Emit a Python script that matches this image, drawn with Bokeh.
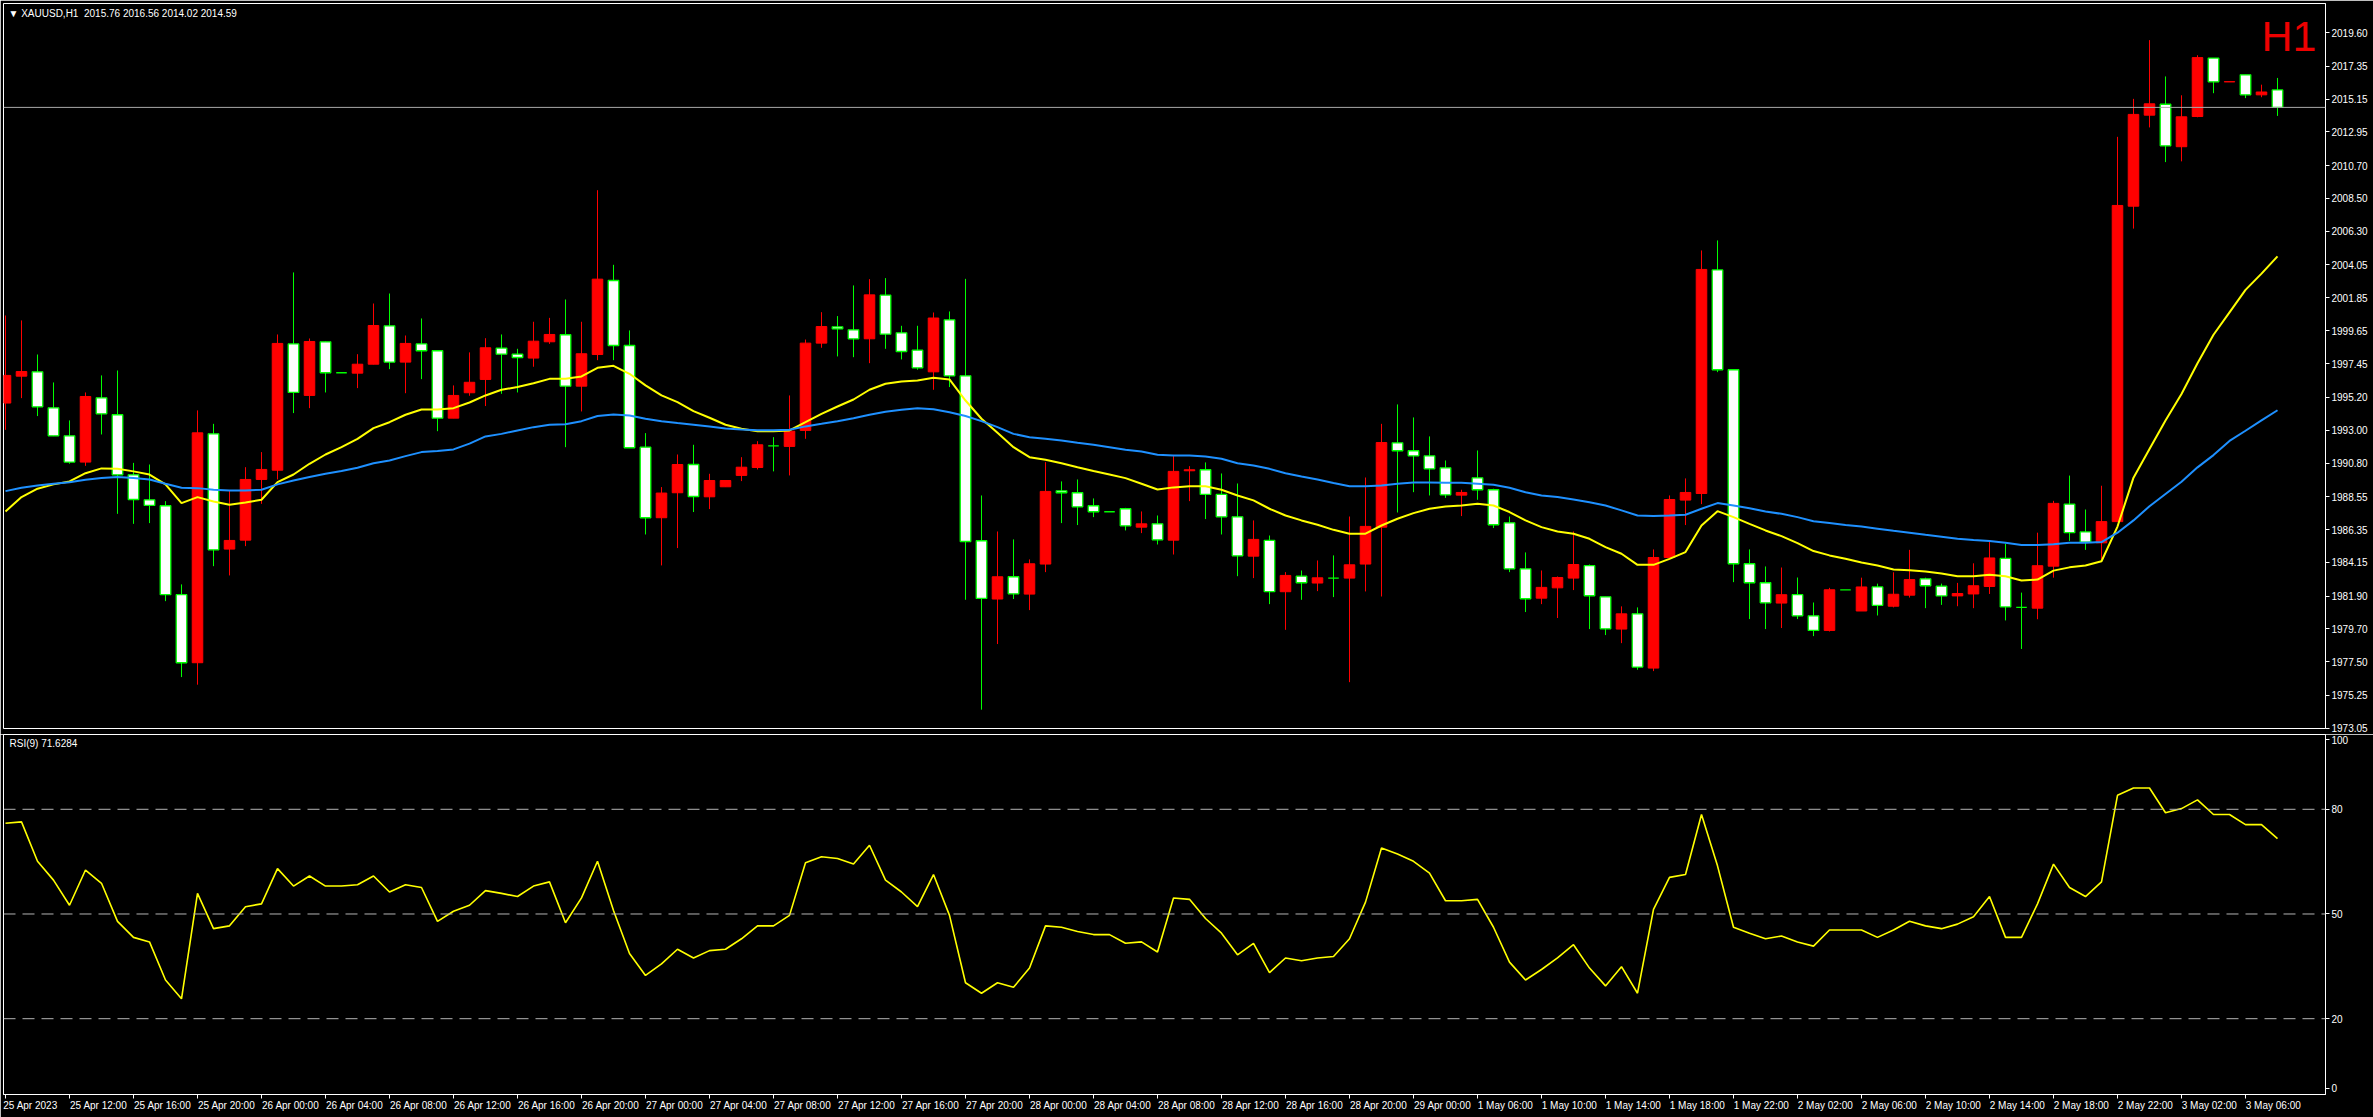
import numpy as np
from bokeh.plotting import figure
from bokeh.layouts import column
from bokeh.models import (ColumnDataSource, Range1d, FixedTicker, PrintfTickFormatter,
                          Span, Label)
from bokeh.embed import file_html
from bokeh.resources import INLINE

# ---------------- data (XAUUSD H1, bar index 0 = 25 Apr 2023 08:00) ----------------
opens = [1994.81, 1996.61, 1996.90, 1994.49, 1992.62, 1990.86, 1995.16, 1994.03, 1990.01, 1988.34,
         1987.94, 1981.99, 1977.44, 1992.75, 1985.04, 1985.64, 1989.70, 1990.32, 1998.77, 1995.32,
         1998.91, 1996.84, 1996.81, 1997.41, 1999.98, 1997.55, 1998.77, 1998.31, 1993.80, 1995.50,
         1996.39, 1998.49, 1998.08, 1997.82, 1998.91, 1999.38, 1995.94, 1998.06, 2003.01, 1998.66,
         1991.86, 1987.14, 1988.81, 1990.70, 1988.54, 1989.21, 1989.97, 1990.50, 1991.95, 1991.91,
         1992.98, 1998.82, 1999.91, 1999.71, 1999.11, 2002.03, 1999.51, 1998.35, 1996.90, 2000.38,
         1996.63, 1985.60, 1981.70, 1983.19, 1982.03, 1984.04, 1988.94, 1988.81, 1987.94, 1987.54,
         1987.74, 1986.51, 1986.73, 1985.64, 1990.28, 1990.35, 1988.70, 1987.20, 1984.57, 1985.62,
         1982.19, 1983.23, 1982.77, 1983.10, 1983.10, 1984.04, 1986.51, 1992.15, 1991.62, 1991.28,
         1990.48, 1988.65, 1989.81, 1989.01, 1986.80, 1983.72, 1981.76, 1982.45, 1983.10, 1983.93,
         1981.85, 1979.69, 1980.71, 1977.08, 1984.48, 1988.32, 1988.76, 2003.72, 1997.04, 1984.06,
         1982.79, 1981.43, 1981.99, 1980.58, 1979.60, 1982.32, 1980.90, 1982.51, 1981.22, 1981.96,
         1983.05, 1982.56, 1981.91, 1982.04, 1982.54, 1984.42, 1981.14, 1981.09, 1983.90, 1988.05,
         1986.19, 1985.46, 1986.88, 2007.98, 2014.07, 2014.80, 2011.96, 2013.98, 2017.89, 2016.30,
         2016.77, 2015.43, 2015.76]
highs = [2000.67, 2000.34, 1998.06, 1996.19, 1993.65, 1995.52, 1996.66, 1996.99, 1990.81, 1990.70,
         1988.25, 1982.68, 1994.32, 1993.42, 1988.96, 1990.52, 1991.53, 1999.40, 2003.55, 1999.13,
         1998.93, 1996.84, 1998.08, 2001.47, 2002.14, 1999.33, 2000.47, 1998.31, 1995.99, 1998.20,
         1999.15, 1999.40, 1998.44, 2000.25, 2000.51, 2001.74, 2000.25, 2009.05, 2004.06, 1999.67,
         1992.80, 1989.19, 1991.37, 1992.02, 1990.08, 1989.63, 1991.19, 1992.26, 1992.53, 1995.32,
         1999.06, 2000.89, 2000.63, 2002.68, 2003.10, 2003.17, 1999.98, 1999.98, 2000.87, 2000.94,
         2003.12, 1988.63, 1986.22, 1985.69, 1984.35, 1990.86, 1989.57, 1989.70, 1988.43, 1987.54,
         1987.80, 1987.56, 1987.29, 1991.26, 1990.59, 1990.84, 1990.10, 1989.43, 1986.96, 1985.95,
         1983.50, 1983.61, 1984.28, 1984.62, 1987.22, 1989.83, 1993.42, 1994.72, 1993.85, 1992.58,
         1990.97, 1989.01, 1991.64, 1989.08, 1987.22, 1984.82, 1983.61, 1983.21, 1986.22, 1984.01,
         1981.85, 1981.21, 1981.14, 1985.02, 1988.63, 1989.77, 2005.02, 2005.69, 1997.04, 1985.02,
         1983.88, 1983.81, 1983.14, 1981.47, 1982.45, 1982.32, 1983.13, 1982.73, 1983.49, 1984.99,
         1983.13, 1982.73, 1982.78, 1984.09, 1985.54, 1985.40, 1982.13, 1986.14, 1988.27, 1989.96,
         1987.69, 1989.28, 2012.62, 2015.16, 2019.09, 2016.66, 2015.40, 2018.08, 2017.89, 2016.31,
         2016.77, 2016.11, 2016.56]
lows = [1993.02, 1995.14, 1993.94, 1992.60, 1990.75, 1990.61, 1992.71, 1987.40, 1986.73, 1986.78,
        1981.56, 1976.48, 1975.97, 1983.90, 1983.28, 1985.24, 1988.07, 1989.70, 1994.14, 1994.47,
        1995.52, 1996.84, 1995.81, 1997.40, 1997.08, 1995.47, 1996.41, 1992.93, 1993.80, 1995.30,
        1994.61, 1995.43, 1995.52, 1997.24, 1998.77, 1991.86, 1994.25, 1997.68, 1997.68, 1991.80,
        1986.02, 1983.95, 1985.11, 1987.52, 1987.72, 1989.21, 1989.59, 1990.37, 1990.24, 1989.97,
        1992.42, 1998.51, 1997.93, 1997.88, 1997.48, 1998.44, 1997.73, 1997.04, 1995.70, 1995.88,
        1981.65, 1974.30, 1978.69, 1981.70, 1980.96, 1983.50, 1986.78, 1986.65, 1987.18, 1987.54,
        1986.29, 1986.11, 1985.35, 1984.68, 1988.25, 1987.05, 1986.02, 1983.23, 1983.10, 1981.36,
        1979.64, 1981.65, 1982.23, 1981.83, 1976.14, 1982.21, 1981.87, 1987.49, 1988.85, 1988.63,
        1988.47, 1987.25, 1988.34, 1986.45, 1983.50, 1980.83, 1981.36, 1980.43, 1982.30, 1979.69,
        1979.29, 1978.75, 1976.97, 1976.88, 1984.48, 1986.65, 1988.05, 1996.88, 1982.83, 1980.36,
        1979.69, 1979.76, 1980.36, 1979.22, 1979.53, 1982.32, 1980.90, 1980.60, 1981.14, 1981.80,
        1981.09, 1981.31, 1981.22, 1981.09, 1982.04, 1980.27, 1978.36, 1980.35, 1983.13, 1985.59,
        1984.99, 1984.36, 1986.88, 2006.48, 2013.25, 2010.93, 2010.98, 2013.93, 2015.54, 2016.30,
        2015.21, 2015.27, 2014.02]
closes = [1996.66, 1996.92, 1994.56, 1992.62, 1990.86, 1995.25, 1994.09, 1990.01, 1988.36, 1987.96,
          1981.99, 1977.44, 1992.82, 1984.99, 1985.62, 1989.70, 1990.37, 1998.80, 1995.52, 1998.93,
          1996.84, 1996.84, 1997.41, 2000.00, 1997.55, 1998.80, 1998.31, 1993.80, 1995.32, 1996.20,
          1998.51, 1998.08, 1997.86, 1998.95, 1999.40, 1995.94, 1998.11, 2003.10, 1998.66, 1991.82,
          1987.14, 1988.79, 1990.70, 1988.56, 1989.63, 1989.63, 1990.52, 1992.02, 1991.95, 1992.93,
          1998.82, 1999.93, 1999.78, 1999.11, 2002.05, 1999.42, 1998.26, 1997.17, 2000.50, 1996.63,
          1985.55, 1981.74, 1983.19, 1982.05, 1984.06, 1988.90, 1988.81, 1987.87, 1987.54, 1987.54,
          1986.60, 1986.73, 1985.66, 1990.24, 1990.35, 1988.70, 1987.20, 1984.59, 1985.69, 1982.19,
          1983.28, 1982.79, 1983.12, 1983.10, 1983.99, 1986.56, 1992.17, 1991.62, 1991.28, 1990.41,
          1988.67, 1988.83, 1989.01, 1986.67, 1983.72, 1981.72, 1982.48, 1983.14, 1984.01, 1981.92,
          1979.71, 1980.71, 1977.15, 1984.48, 1988.36, 1988.83, 2003.75, 1997.04, 1984.06, 1982.79,
          1981.45, 1981.99, 1980.58, 1979.60, 1982.32, 1982.32, 1982.51, 1981.28, 1982.02, 1983.00,
          1982.59, 1981.91, 1982.07, 1982.59, 1984.45, 1981.17, 1981.14, 1983.93, 1988.10, 1986.14,
          1985.51, 1986.88, 2008.03, 2014.12, 2014.83, 2012.02, 2013.96, 2017.92, 2016.30, 2016.31,
          2015.43, 2015.62, 2014.59]

ma_fast = [1987.56, 1988.52, 1989.08, 1989.37, 1989.57, 1990.12, 1990.44, 1990.41, 1990.24, 1990.03,
           1989.37, 1988.12, 1988.52, 1988.23, 1988.01, 1988.16, 1988.34, 1989.52, 1990.03, 1990.75,
           1991.37, 1991.86, 1992.42, 1993.13, 1993.53, 1994.03, 1994.38, 1994.38, 1994.47, 1994.85,
           1995.32, 1995.70, 1995.88, 1996.14, 1996.43, 1996.43, 1996.59, 1997.17, 1997.30, 1996.77,
           1995.99, 1995.32, 1994.87, 1994.27, 1993.83, 1993.36, 1993.09, 1992.93, 1992.93, 1992.98,
           1993.53, 1994.09, 1994.58, 1995.05, 1995.70, 1996.10, 1996.26, 1996.32, 1996.50, 1996.39,
           1994.98, 1993.76, 1992.82, 1991.86, 1991.19, 1991.02, 1990.79, 1990.52, 1990.26, 1990.03,
           1989.79, 1989.41, 1989.03, 1989.17, 1989.25, 1989.25, 1989.01, 1988.63, 1988.30, 1987.74,
           1987.29, 1986.96, 1986.67, 1986.33, 1986.07, 1986.07, 1986.62, 1987.07, 1987.45, 1987.74,
           1987.89, 1987.96, 1988.07, 1987.96, 1987.52, 1986.96, 1986.51, 1986.22, 1986.07, 1985.73,
           1985.17, 1984.73, 1983.99, 1983.99, 1984.39, 1984.84, 1986.62, 1987.58, 1987.18, 1986.73,
           1986.29, 1985.91, 1985.44, 1984.91, 1984.62, 1984.40, 1984.14, 1983.95, 1983.68, 1983.63,
           1983.54, 1983.41, 1983.22, 1983.22, 1983.33, 1983.22, 1982.94, 1983.00, 1983.60, 1983.82,
           1983.95, 1984.23, 1986.55, 1989.82, 1991.74, 1993.65, 1995.42, 1997.47, 1999.38, 2000.88,
           2002.38, 2003.47, 2004.62]
ma_slow = [1988.92, 1989.14, 1989.30, 1989.41, 1989.52, 1989.68, 1989.79, 1989.86, 1989.79, 1989.70,
           1989.41, 1989.14, 1989.12, 1989.01, 1988.96, 1988.96, 1989.01, 1989.37, 1989.63, 1989.86,
           1990.08, 1990.26, 1990.48, 1990.79, 1990.97, 1991.26, 1991.53, 1991.60, 1991.71, 1992.10,
           1992.58, 1992.75, 1992.98, 1993.20, 1993.36, 1993.40, 1993.60, 1993.94, 1994.05, 1993.98,
           1993.76, 1993.60, 1993.47, 1993.36, 1993.25, 1993.11, 1993.04, 1993.00, 1993.00, 1993.02,
           1993.25, 1993.42, 1993.60, 1993.80, 1994.03, 1994.23, 1994.36, 1994.47, 1994.40, 1994.20,
           1993.94, 1993.60, 1993.20, 1992.75, 1992.53, 1992.42, 1992.31, 1992.15, 1992.02, 1991.86,
           1991.68, 1991.57, 1991.35, 1991.31, 1991.31, 1991.24, 1991.08, 1990.79, 1990.64, 1990.41,
           1990.12, 1989.90, 1989.70, 1989.46, 1989.25, 1989.25, 1989.30, 1989.41, 1989.50, 1989.50,
           1989.48, 1989.48, 1989.41, 1989.34, 1989.14, 1988.85, 1988.63, 1988.52, 1988.36, 1988.18,
           1987.96, 1987.63, 1987.29, 1987.25, 1987.29, 1987.34, 1987.74, 1988.12, 1987.96, 1987.78,
           1987.56, 1987.40, 1987.18, 1986.91, 1986.78, 1986.65, 1986.55, 1986.41, 1986.27, 1986.14,
           1986.00, 1985.87, 1985.73, 1985.65, 1985.59, 1985.46, 1985.32, 1985.32, 1985.37, 1985.46,
           1985.46, 1985.51, 1986.14, 1986.96, 1987.91, 1988.73, 1989.55, 1990.51, 1991.33, 1992.28,
           1992.96, 1993.65, 1994.33]

rsi = [76.0, 76.4, 65.1, 59.7, 52.5, 62.6, 58.8, 47.9, 43.3, 42.0,
       31.1, 25.7, 55.9, 45.8, 46.6, 52.1, 52.9, 63.0, 58.0, 60.9,
       58.0, 58.0, 58.4, 60.9, 56.3, 58.4, 57.6, 47.9, 50.8, 52.5,
       56.7, 55.9, 55.0, 58.0, 59.2, 47.5, 54.6, 65.1, 51.0, 38.7,
       32.4, 35.7, 39.9, 37.4, 39.5, 39.9, 42.9, 46.6, 46.6, 49.6,
       64.7, 66.4, 65.9, 64.3, 69.7, 59.7, 56.3, 52.1, 61.3, 49.6,
       30.3, 27.3, 30.3, 29.0, 34.5, 46.6, 46.2, 45.0, 44.1, 44.1,
       41.6, 42.0, 39.1, 54.6, 54.2, 48.7, 44.5, 38.3, 41.6, 33.2,
       37.4, 36.6, 37.4, 37.8, 42.9, 53.4, 68.9, 67.2, 65.1, 61.7,
       53.8, 53.8, 54.2, 46.2, 36.2, 31.1, 34.1, 37.4, 41.2, 34.5,
       29.4, 34.9, 27.3, 51.3, 60.5, 61.3, 78.5, 63.8, 46.2, 44.5,
       42.9, 43.7, 42.0, 40.8, 45.4, 45.4, 45.4, 43.3, 45.4, 47.9,
       46.6, 45.8, 47.1, 49.2, 55.0, 43.3, 43.3, 52.9, 64.3, 57.6,
       55.0, 59.2, 84.0, 86.1, 86.1, 79.0, 80.2, 82.7, 78.5, 78.5,
       75.6, 75.6, 71.6]

time_labels = ["25 Apr 2023", "25 Apr 12:00", "25 Apr 16:00", "25 Apr 20:00", "26 Apr 00:00",
               "26 Apr 04:00", "26 Apr 08:00", "26 Apr 12:00", "26 Apr 16:00", "26 Apr 20:00",
               "27 Apr 00:00", "27 Apr 04:00", "27 Apr 08:00", "27 Apr 12:00", "27 Apr 16:00",
               "27 Apr 20:00", "28 Apr 00:00", "28 Apr 04:00", "28 Apr 08:00", "28 Apr 12:00",
               "28 Apr 16:00", "28 Apr 20:00", "29 Apr 00:00", "1 May 06:00", "1 May 10:00",
               "1 May 14:00", "1 May 18:00", "1 May 22:00", "2 May 02:00", "2 May 06:00",
               "2 May 10:00", "2 May 14:00", "2 May 18:00", "2 May 22:00", "3 May 02:00",
               "3 May 06:00"]
time_label_bars = list(range(0, 141, 4))

price_ticks = [2019.60, 2017.35, 2015.15, 2012.95, 2010.70, 2008.50, 2006.30, 2004.05, 2001.85,
               1999.65, 1997.45, 1995.20, 1993.00, 1990.80, 1988.55, 1986.35, 1984.15, 1981.90,
               1979.70, 1977.50, 1975.25, 1973.05]
rsi_ticks = [0, 20, 50, 80, 100]
rsi_levels = [20, 50, 80]
last_price = 2014.59
header = "\u25BC XAUUSD,H1\u00a0\u00a02015.76 2016.56 2014.02 2014.59"
rsi_title = "RSI(9) 71.6284"

# ---------------- build ----------------
n = len(opens)
idx = np.arange(n)
o = np.array(opens); c = np.array(closes); h = np.array(highs); l = np.array(lows)
bull = c > o


def src(mask):
    return ColumnDataSource(dict(x=idx[mask], top=np.maximum(o, c)[mask], bottom=np.minimum(o, c)[mask],
                                 high=h[mask], low=l[mask]))


bull_src = src(bull)
bear_src = src(~bull)

W = 2373
FONT = "Liberation Sans"
FS = "10px"
x_range = Range1d(-0.125, 145.0)

main = figure(width=W, height=734, x_range=x_range, y_range=Range1d(1973.04, 2021.54),
              output_backend="svg", toolbar_location=None, x_axis_location=None,
              y_axis_location="right", background_fill_color="black", border_fill_color="black",
              outline_line_color="white", min_border_left=3, min_border_right=48,
              min_border_top=3, min_border_bottom=6)
main.grid.visible = False

# bid line
main.add_layout(Span(location=last_price, dimension="width", line_color="#a8a8a8", line_width=1))

main.segment(x0="x", y0="low", x1="x", y1="high", source=bull_src, line_color="#ff0000", line_width=1)
main.segment(x0="x", y0="low", x1="x", y1="high", source=bear_src, line_color="#00ff00", line_width=1)
main.vbar(x="x", top="top", bottom="bottom", width=0.66, source=bull_src,
          fill_color="#ff0000", line_color="#ff0000", line_width=1)
main.vbar(x="x", top="top", bottom="bottom", width=0.66, source=bear_src,
          fill_color="#ffffff", line_color="#00ff00", line_width=1.3)

main.line(idx, ma_fast, line_color="#ffff00", line_width=2)
main.line(idx, ma_slow, line_color="#1e90ff", line_width=2)


def style_axis(ax):
    ax.axis_line_color = "white"
    ax.major_tick_line_color = "white"
    ax.major_tick_out = 4
    ax.major_tick_in = 0
    ax.minor_tick_line_color = None
    ax.major_label_text_color = "white"
    ax.major_label_text_font = FONT
    ax.major_label_text_font_size = FS


ya = main.yaxis[0]
ya.ticker = FixedTicker(ticks=price_ticks)
ya.formatter = PrintfTickFormatter(format="%.2f")
style_axis(ya)
ya.major_label_standoff = 2

main.add_layout(Label(x=145.0, y=last_price, text=f"{last_price:.2f}", text_color="black",
                      text_font=FONT, text_font_size=FS, text_baseline="middle",
                      background_fill_color="white", border_line_color="white", x_offset=3))
main.add_layout(Label(x=-0.125, y=2021.54, text=header, text_color="white", text_font=FONT,
                      text_font_size=FS, text_baseline="top", x_offset=5, y_offset=-4))
main.add_layout(Label(x=141.0, y=2020.95, text="H1", text_color="#ee0000", text_font=FONT,
                      text_font_size="43px", text_baseline="top"))

rsi_fig = figure(width=W, height=383, x_range=x_range, y_range=Range1d(-1.72, 101.43),
                 output_backend="svg", toolbar_location=None, y_axis_location="right",
                 background_fill_color="black", border_fill_color="black",
                 outline_line_color="white", min_border_left=3, min_border_right=48,
                 min_border_top=0, min_border_bottom=23)
rsi_fig.grid.visible = False
for lv in rsi_levels:
    rsi_fig.add_layout(Span(location=lv, dimension="width", line_color="#b4b4b4",
                            line_width=1, line_dash="12 7"))
rsi_fig.line(idx, rsi, line_color="#ffff00", line_width=1.6)
rsi_fig.add_layout(Label(x=-0.125, y=101.43, text=rsi_title, text_color="white", text_font=FONT,
                         text_font_size=FS, text_baseline="top", x_offset=6, y_offset=-3))

ra = rsi_fig.yaxis[0]
ra.ticker = FixedTicker(ticks=rsi_ticks)
style_axis(ra)
ra.major_label_standoff = 2

# left-aligned time labels: Bokeh centres labels on ticks, so pad each label on the
# left with invisible no-break spaces of the same width as the label itself.
# The first label sits at the canvas edge, where Bokeh keeps it inside the canvas.
EM = {"0": .556, "1": .556, "2": .556, "3": .556, "4": .556, "5": .556, "6": .556, "7": .556,
      "8": .556, "9": .556, " ": .278, ":": .278, "A": .667, "M": .833, "p": .556, "r": .333,
      "a": .556, "y": .5}


def left_pad(s, first=False):
    if first:
        return "\u00a0" + s
    w = sum(EM.get(ch, .556) for ch in s)
    return "\u00a0" * int(round(w / 0.278)) + s


xa = rsi_fig.xaxis[0]
xa.ticker = FixedTicker(ticks=time_label_bars)
xa.major_label_overrides = {b: left_pad(t, k == 0)
                            for k, (b, t) in enumerate(zip(time_label_bars, time_labels))}
style_axis(xa)
xa.major_label_standoff = 1

layout = column(main, rsi_fig, spacing=0)
open("out.html", "w").write(file_html(layout, INLINE))
